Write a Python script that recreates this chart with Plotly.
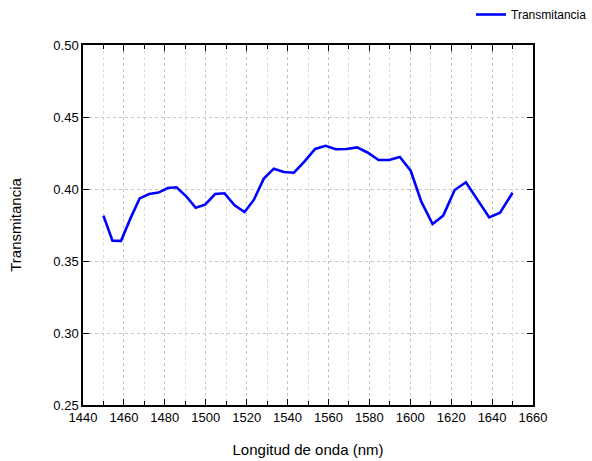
import plotly.graph_objects as go

# Wavelength samples (nm) and measured transmittance
wavelength = [1450.0, 1454.4, 1458.6, 1463.2, 1467.7, 1472.3, 1476.9, 1481.4, 1485.7,
              1490.6, 1495.1, 1499.7, 1504.6, 1509.2, 1514.1, 1519.0, 1523.5, 1528.4,
              1533.3, 1538.2, 1543.1, 1548.0, 1553.5, 1558.6, 1563.6, 1568.9, 1574.0,
              1579.3, 1584.5, 1589.7, 1594.9, 1600.2, 1605.4, 1610.9, 1616.1, 1621.7,
              1627.2, 1638.6, 1643.9, 1650.0]
transmitancia = [0.3815, 0.3641, 0.3640, 0.3796, 0.3935, 0.3965, 0.3975, 0.4007, 0.4012,
                 0.3947, 0.3870, 0.3891, 0.3965, 0.3970, 0.3887, 0.3840, 0.3924, 0.4072,
                 0.4141, 0.4118, 0.4113, 0.4187, 0.4278, 0.4300, 0.4276, 0.4278, 0.4289,
                 0.4252, 0.4201, 0.4201, 0.4222, 0.4127, 0.3912, 0.3757, 0.3815, 0.3993,
                 0.4047, 0.3803, 0.3836, 0.3974]

x_ticks = list(range(1440, 1661, 20))
y_ticks = [0.25, 0.30, 0.35, 0.40, 0.45, 0.50]

font_family = "Liberation Sans, Arial, sans-serif"

fig = go.Figure()
fig.add_trace(go.Scatter(
    x=wavelength, y=transmitancia, mode="lines", name="Transmitancia",
    line=dict(color="#0000FF", width=2.6),
))

fig.update_layout(
    width=592, height=461,
    margin=dict(l=83, r=59, t=45, b=56, autoexpand=False),
    paper_bgcolor="white", plot_bgcolor="white",
    font=dict(family=font_family, size=13, color="black"),
    showlegend=True,
    legend=dict(
        xref="container", yref="container",
        x=1.0, xanchor="right", y=1.0, yanchor="top",
        font=dict(size=12), bgcolor="rgba(0,0,0,0)",
        itemwidth=30,
    ),
)

fig.update_xaxes(
    range=[1440, 1660], tickvals=x_ticks, ticktext=[str(v) for v in x_ticks],
    showline=True, linecolor="black", linewidth=1.5, mirror="ticks",
    ticks="inside", ticklen=6, tickwidth=1, tickcolor="black",
    showgrid=True, gridcolor="#c4c4c4", griddash="dot", gridwidth=1,
    minor=dict(dtick=10, tick0=1440, ticks="inside", ticklen=4, tickcolor="black",
               showgrid=True, gridcolor="#dadada", griddash="dot", gridwidth=1),
    zeroline=False,
    title=dict(text="Longitud de onda (nm)", font=dict(size=15), standoff=20),
    tickfont=dict(size=13),
)
fig.update_yaxes(
    range=[0.25, 0.50], tickvals=y_ticks, ticktext=[f"{v:.2f}" for v in y_ticks],
    showline=True, linecolor="black", linewidth=1.5, mirror="ticks",
    ticks="inside", ticklen=6, tickwidth=1, tickcolor="black",
    showgrid=True, gridcolor="#c4c4c4", griddash="dot", gridwidth=1,
    zeroline=False,
    title=dict(text="Transmitancia", font=dict(size=15), standoff=28),
    tickfont=dict(size=13),
)

fig.write_html("out.html")
